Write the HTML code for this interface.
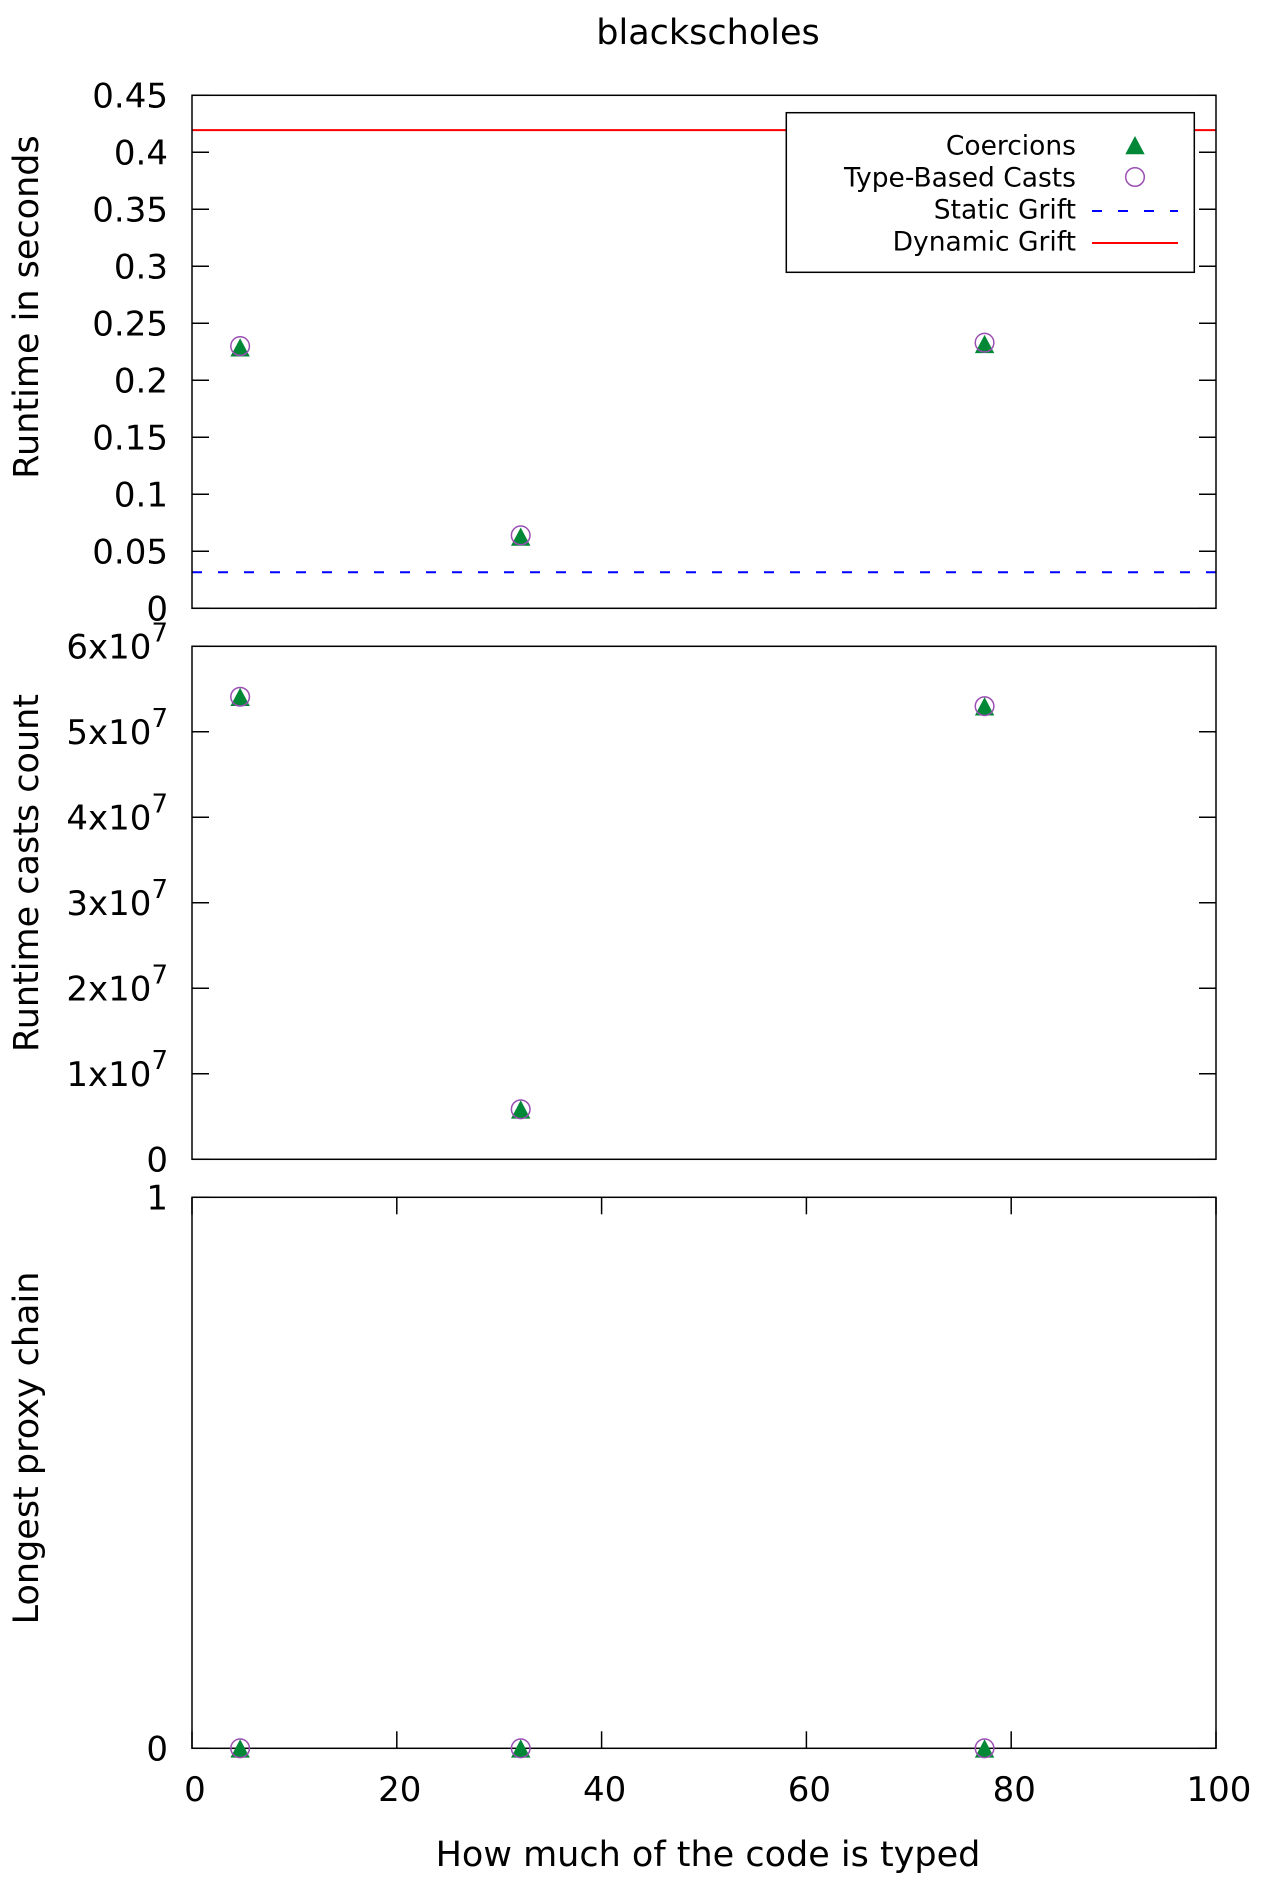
<!DOCTYPE html>
<html><head><meta charset="utf-8"><style>
html,body{margin:0;padding:0;background:#fff}
svg{display:block;font-family:"DejaVu Sans","Liberation Sans",sans-serif}
</style></head><body>
<svg id="chart" width="1280" height="1900" viewBox="0 0 1280 1900" xmlns="http://www.w3.org/2000/svg">
<text x="708" y="33" font-size="35" text-anchor="middle" dominant-baseline="central">blackscholes</text>
<text x="708" y="1855" font-size="35" text-anchor="middle" dominant-baseline="central">How much of the code is typed</text>
</svg>
<script>
const xValues = [4.7, 32.1, 77.4];
const runtimeCoercions = [0.229, 0.063, 0.232];
const runtimeCasts = [0.230, 0.064, 0.233];
const staticGrift = 0.0316;
const dynamicGrift = 0.4195;
const castCountCoercions = [5.41e7, 0.585e7, 5.30e7];
const castCountCasts = [5.41e7, 0.585e7, 5.30e7];
const proxyCoercions = [0, 0, 0];
const proxyCasts = [0, 0, 0];
const xTicks = [0, 20, 40, 60, 80, 100];
const runtimeTicks = ['0','0.05','0.1','0.15','0.2','0.25','0.3','0.35','0.4','0.45'];
const castTicks = [0, 1, 2, 3, 4, 5, 6];
const proxyTicks = [0, 1];

const svg = document.getElementById('chart');
const NS = 'http://www.w3.org/2000/svg';
const L = 192, R = 1216;
function mk(tag, attrs, parent) {
  const e = document.createElementNS(NS, tag);
  for (const k in attrs) e.setAttribute(k, attrs[k]);
  (parent || svg).appendChild(e);
  return e;
}
const xs = v => L + (v / 100) * (R - L);

const panels = [
  {name:'runtime', top:95.3, bot:608.3, min:0, max:0.45, label:'Runtime in seconds', labelY:307},
  {name:'casts', top:646.3, bot:1159.3, min:0, max:6e7, label:'Runtime casts count', labelY:873},
  {name:'proxy', top:1197.3, bot:1748.3, min:0, max:1, label:'Longest proxy chain', labelY:1448}
];
function ys(p, v) { return p.bot - (v - p.min) / (p.max - p.min) * (p.bot - p.top); }

function marker(x, y, g, which) {
  if (which === 'tri') {
    const t = mk('polygon', {points:`${x},${y-9} ${x-9.7},${y+9.3} ${x+9.7},${y+9.3}`, fill:'#008837'}, g);
    
    
  } else {
    const c = mk('circle', {cx:x, cy:y, r:9.3, fill:'none', stroke:'#9b4fb4', 'stroke-width':1.5}, g);
    
    
  }
}

panels.forEach((p, pi) => {
  const g = mk('g', {});
  
  
  let tickVals;
  if (pi === 0) tickVals = runtimeTicks.map(Number);
  else if (pi === 1) tickVals = castTicks.map(v => v * 1e7);
  else tickVals = proxyTicks;
  tickVals.forEach((v, i) => {
    const y = ys(p, v);
    mk('line', {x1:L, x2:L+17, y1:y, y2:y, stroke:'#000', 'stroke-width':1.5}, g);
    mk('line', {x1:R-17, x2:R, y1:y, y2:y, stroke:'#000', 'stroke-width':1.5}, g);
    const t = mk('text', {x:168, y:y+1, 'font-size':34, 'text-anchor':'end', 'dominant-baseline':'central'}, g);
    
    
    if (pi === 0) t.textContent = runtimeTicks[i];
    else if (pi === 1) {
      if (castTicks[i] === 0) t.textContent = '0';
      else {
        t.textContent = castTicks[i] + 'x10';
        const s = mk('tspan', {'font-size':26, dy:-14}, t);
        s.textContent = '7';
      }
    } else t.textContent = String(proxyTicks[i]);
  });
  if (pi === 2) {
    xTicks.forEach(v => {
      const x = xs(v);
      mk('line', {x1:x, x2:x, y1:p.bot, y2:p.bot-17, stroke:'#000', 'stroke-width':1.5}, g);
      mk('line', {x1:x, x2:x, y1:p.top, y2:p.top+17, stroke:'#000', 'stroke-width':1.5}, g);
      const t = mk('text', {x:x+3, y:1790, 'font-size':34, 'text-anchor':'middle', 'dominant-baseline':'central'}, g);
      
      
      t.textContent = String(v);
    });
  }
  const yl = mk('text', {x:27, y:p.labelY, 'font-size':35, 'text-anchor':'middle', 'dominant-baseline':'central', transform:`rotate(-90 27 ${p.labelY})`}, g);
  
  
  yl.textContent = p.label;
  if (pi === 0) {
    const dl = mk('line', {x1:L, x2:R, y1:ys(p, dynamicGrift), y2:ys(p, dynamicGrift), stroke:'#ff0000', 'stroke-width':2}, g);
    
    
    const sl = mk('line', {x1:L, x2:R, y1:ys(p, staticGrift), y2:ys(p, staticGrift), stroke:'#0000ff', 'stroke-width':2, 'stroke-dasharray':'10,16'}, g);
    
    
  }
  mk('rect', {x:L, y:p.top, width:R-L, height:p.bot-p.top, fill:'none', stroke:'#000', 'stroke-width':1.5}, g);
  const a = pi === 0 ? runtimeCoercions : pi === 1 ? castCountCoercions : proxyCoercions;
  const b = pi === 0 ? runtimeCasts : pi === 1 ? castCountCasts : proxyCasts;
  xValues.forEach((xv, i) => {
    marker(xs(xv), ys(p, a[i]), g, 'tri');
    marker(xs(xv), ys(p, b[i]), g, 'circ');
  });
});

const lg = mk('g', {});


mk('rect', {x:786.3, y:112.7, width:408, height:159.6, fill:'#fff', stroke:'#000', 'stroke-width':1.5}, lg);
const entries = ['Coercions', 'Type-Based Casts', 'Static Grift', 'Dynamic Grift'];
entries.forEach((name, i) => {
  const y = 145 + i * 32;
  const t = mk('text', {x:1076, y:y+1, 'font-size':26.5, 'text-anchor':'end', 'dominant-baseline':'central'}, lg);
  
  
  t.textContent = name;
  if (i === 0) marker(1135, y, lg, 'tri');
  else if (i === 1) marker(1135, y, lg, 'circ');
  else if (i === 2) mk('line', {x1:1092, x2:1178, y1:y+2, y2:y+2, stroke:'#0000ff', 'stroke-width':2, 'stroke-dasharray':'10,16'}, lg);
  else mk('line', {x1:1092, x2:1178, y1:y+2, y2:y+2, stroke:'#ff0000', 'stroke-width':2}, lg);
});
</script>
</body></html>
